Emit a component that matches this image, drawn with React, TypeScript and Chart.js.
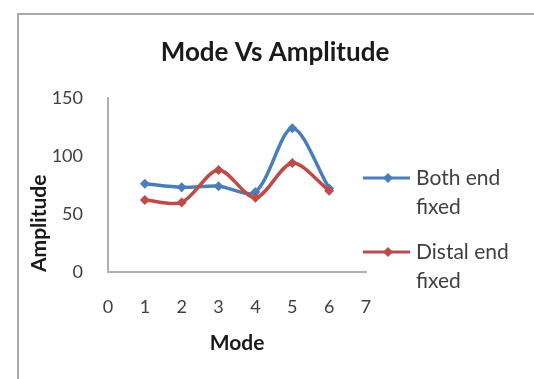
import React, { useEffect, useRef } from "react";
import { Chart, registerables } from "chart.js";

Chart.register(...registerables);

const chartTitle = "Mode Vs Amplitude";
const xAxisTitle = "Mode";
const yAxisTitle = "Amplitude";
const modes = [1, 2, 3, 4, 5, 6];
const bothEndFixed = [76, 73, 74, 69, 124, 72];
const distalEndFixed = [62, 60, 88, 64, 94, 70];
const seriesNames = ["Both end fixed", "Distal end fixed"];
const legendLines = [["Both end", "fixed"], ["Distal end", "fixed"]];
const xMin = 0;
const xMax = 7;
const xStep = 1;
const yMin = 0;
const yMax = 150;
const yStep = 50;

const FONT = "Lato";
const BLUE = "#4A7EBB";
const RED = "#BE4B48";
const TEXT = "#404040";

const sideLegend = {
  id: "sideLegend",
  afterDraw(chart: any) {
    const ctx = chart.ctx;
    const rows = [178, 252];
    const lineGap = 29;
    chart.data.datasets.forEach((ds: any, i: number) => {
      const y = rows[i];
      ctx.save();
      ctx.strokeStyle = ds.borderColor;
      ctx.lineWidth = 3;
      ctx.beginPath();
      ctx.moveTo(363, y);
      ctx.lineTo(410, y);
      ctx.stroke();
      ctx.fillStyle = ds.borderColor;
      ctx.beginPath();
      ctx.moveTo(388, y - 5);
      ctx.lineTo(393, y);
      ctx.lineTo(388, y + 5);
      ctx.lineTo(383, y);
      ctx.closePath();
      ctx.fill();
      ctx.fillStyle = TEXT;
      ctx.font = `21px ${FONT}`;
      ctx.textAlign = "left";
      ctx.textBaseline = "middle";
      legendLines[i].forEach((t, k) => ctx.fillText(t, 416, y + k * lineGap));
      ctx.restore();
    });
  },
};

export default function App() {
  const ref = useRef<HTMLCanvasElement | null>(null);

  useEffect(() => {
    if (!ref.current) return;
    const toPoints = (vals: number[]) => modes.map((m, i) => ({ x: m, y: vals[i] }));
    const chart = new Chart(ref.current, {
      type: "line",
      data: {
        datasets: [
          {
            label: seriesNames[0],
            data: toPoints(bothEndFixed),
            borderColor: BLUE,
            backgroundColor: BLUE,
            borderWidth: 3.5,
            pointStyle: "rectRot",
            pointRadius: 5,
            pointBorderWidth: 0,
            tension: 0.3,
            order: 1,
          },
          {
            label: seriesNames[1],
            data: toPoints(distalEndFixed),
            borderColor: RED,
            backgroundColor: RED,
            borderWidth: 3.5,
            pointStyle: "rectRot",
            pointRadius: 5,
            pointBorderWidth: 0,
            tension: 0.3,
            order: 0,
          },
        ],
      },
      plugins: [sideLegend],
      options: {
        responsive: false,
        animation: false,
        layout: { padding: { left: 16, right: 0, top: 0, bottom: 0 } },
        plugins: {
          legend: { display: false },
          tooltip: { enabled: false },
          title: {
            display: true,
            text: chartTitle,
            color: "#1a1a1a",
            font: { family: FONT, size: 26, weight: "bold" },
            padding: { top: 37.4, bottom: 29.4 },
          },
        },
        scales: {
          x: {
            type: "linear",
            min: xMin,
            max: xMax,
            ticks: {
              stepSize: xStep,
              color: TEXT,
              font: { family: FONT, size: 18 },
              padding: 24,
            },
            grid: { display: false, drawTicks: false },
            border: { display: true, color: "#B0B0B0", width: 2 },
            title: {
              display: true,
              text: xAxisTitle,
              color: "#1a1a1a",
              font: { family: FONT, size: 21, weight: "bold" },
              padding: { top: 0, bottom: 23.4 },
            },
            afterFit(scale: any) {
              scale.height = 107;
            },
          },
          y: {
            type: "linear",
            min: yMin,
            max: yMax,
            ticks: {
              stepSize: yStep,
              color: TEXT,
              font: { family: FONT, size: 18 },
              padding: 25,
            },
            grid: { display: false, drawTicks: false },
            border: { display: true, color: "#B0B0B0", width: 2 },
            title: {
              display: true,
              text: yAxisTitle,
              align: "start",
              color: "#1a1a1a",
              font: { family: FONT, size: 21, weight: "bold" },
              padding: { top: 10.4, bottom: 0 },
            },
            afterFit(scale: any) {
              scale.width = 92;
            },
          },
          spacer: {
            type: "linear",
            position: "right",
            display: true,
            ticks: { display: false },
            grid: { display: false, drawTicks: false },
            border: { display: false },
            afterFit(scale: any) {
              scale.width = 168;
            },
          },
        },
      },
    });
    return () => chart.destroy();
  }, []);

  return (
    <div
      style={{
        position: "absolute",
        left: 0,
        top: 0,
        width: 534,
        height: 379,
        overflow: "hidden",
        background: "#ffffff",
      }}
    >
      <div
        style={{
          position: "absolute",
          left: 17,
          top: 13,
          width: 600,
          height: 500,
          border: "2px solid #A8A8A8",
          boxSizing: "border-box",
        }}
      />
      <canvas
        ref={ref}
        width={534}
        height={379}
        style={{ position: "absolute", left: 0, top: 0, width: 534, height: 379 }}
      />
    </div>
  );
}
